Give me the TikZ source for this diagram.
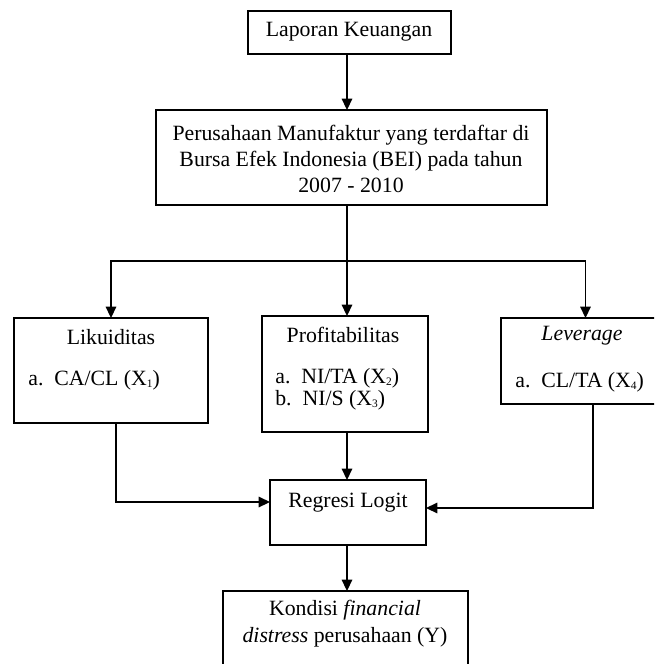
\documentclass[tikz,border=0pt]{standalone}
\usepackage{fontspec}
\setmainfont{Liberation Serif}
\usetikzlibrary{arrows.meta}
\newcommand{\mysub}[1]{\raisebox{-0.25ex}{\fontsize{6.5}{7}\selectfont #1}}
\begin{document}
\begin{tikzpicture}[x=0.02cm,y=-0.02cm,
  box/.style={draw,line width=0.85pt,inner sep=0pt,outer sep=0pt},
  txt/.style={inner sep=0pt,font=\fontsize{12.4}{14.8}\selectfont},
  arr/.style={line width=0.85pt,-{Triangle[length=6.5pt,width=6pt]}},
  ln/.style={line width=0.85pt}]
\useasboundingbox (0,0) rectangle (654,664);
\clip (0,0) rectangle (654,664);
% boxes
\node[box,minimum width=4.06cm,minimum height=0.86cm] (b1) at (349.5,32.5) {};
\node[box,minimum width=7.82cm,minimum height=1.9cm] (b2) at (351.5,157.5) {};
\node[box,minimum width=3.88cm,minimum height=2.1cm] (lik) at (111,370.5) {};
\node[box,minimum width=3.32cm,minimum height=2.32cm] (prof) at (345,374) {};
\node[box,minimum width=3.38cm,minimum height=1.72cm] (lev) at (585.5,361) {};
\node[box,minimum width=3.12cm,minimum height=1.3cm] (reg) at (348,512.5) {};
\node[box,minimum width=4.9cm,minimum height=2.18cm] (kon) at (345.5,645.5) {};
% texts
\node[txt] (t1) at (349,32) {Laporan Keuangan};
\node[txt,align=center] (t2) at (351,159) {Perusahaan Manufaktur yang terdaftar di\\Bursa Efek Indonesia (BEI) pada tahun\\2007 - 2010};
\node[txt] (tl) at (111,337) {Likuiditas};
\node[txt,anchor=west] (tla) at (28,380) {a.\enspace CA/CL (X\mysub{1})};
\node[txt] (tp) at (343,335) {Profitabilitas};
\node[txt,anchor=west,align=left,font=\fontsize{12.4}{12.6}\selectfont] (tpa) at (275,389) {a.\enspace NI/TA (X\mysub{2})\\b.\enspace NI/S (X\mysub{3})};
\node[txt] (tv) at (582,336) {\textit{Leverage}};
\node[txt,anchor=west] (tva) at (515,382) {a.\enspace CL/TA (X\mysub{4})};
\node[txt] (tr) at (348,503) {Regresi Logit};
\node[txt,align=center,font=\fontsize{12.4}{15.3}\selectfont] (tk) at (345,623.5) {Kondisi \textit{financial}\\\textit{distress} perusahaan (Y)};
% connectors
\coordinate (sp) at (347,261);
\draw[arr] (b1.south -| sp) -- (sp |- b2.north);
\draw[ln] (sp |- b2.south) -- (sp);
\draw[arr] (sp) -- (sp |- prof.north);
\draw[arr] (sp) -| (lik.north);
\draw[arr] (sp) -| (lev.north);
\draw[arr] ([xshift=0.1cm]lik.south) |- ([yshift=0.21cm]reg.west);
\draw[arr] ([xshift=0.15cm]lev.south) |- ([yshift=0.09cm]reg.east);
\draw[arr] (sp |- prof.south) -- (sp |- reg.north);
\draw[arr] (sp |- reg.south) -- (sp |- kon.north);
\end{tikzpicture}
\end{document}
